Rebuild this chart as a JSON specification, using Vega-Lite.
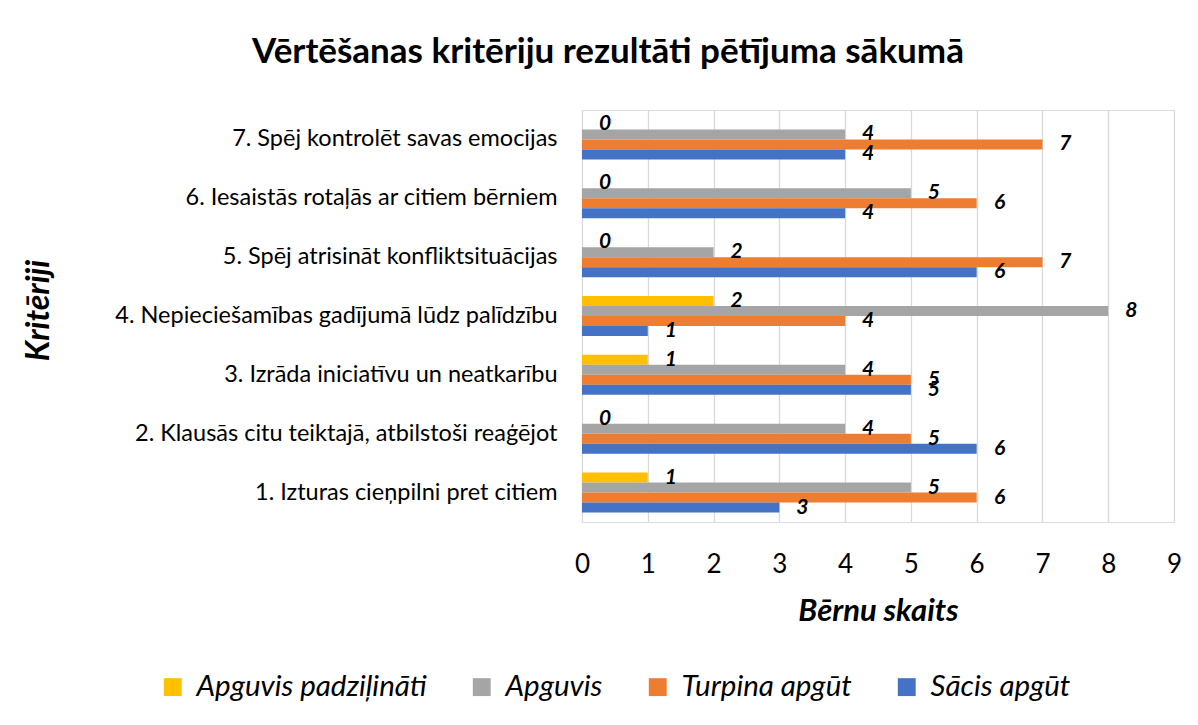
{
  "$schema": "https://vega.github.io/schema/vega-lite/v6.json",
  "width": 592,
  "height": 412,
  "autosize": {"type": "none"},
  "padding": {"left": 582, "top": 110, "right": 24, "bottom": 203},
  "background": "white",
  "title": {
    "text": "Vērtēšanas kritēriju rezultāti pētījuma sākumā",
    "font": "Lato",
    "fontSize": 35,
    "fontWeight": "bold",
    "color": "#000000",
    "anchor": "middle",
    "dx": -270,
    "offset": 40
  },
  "data": {
    "values": [
      {"crit": "7. Spēj kontrolēt savas emocijas", "series": "Apguvis padziļināti", "v": 0},
      {"crit": "7. Spēj kontrolēt savas emocijas", "series": "Apguvis", "v": 4},
      {"crit": "7. Spēj kontrolēt savas emocijas", "series": "Turpina apgūt", "v": 7},
      {"crit": "7. Spēj kontrolēt savas emocijas", "series": "Sācis apgūt", "v": 4},
      {"crit": "6. Iesaistās rotaļās ar citiem bērniem", "series": "Apguvis padziļināti", "v": 0},
      {"crit": "6. Iesaistās rotaļās ar citiem bērniem", "series": "Apguvis", "v": 5},
      {"crit": "6. Iesaistās rotaļās ar citiem bērniem", "series": "Turpina apgūt", "v": 6},
      {"crit": "6. Iesaistās rotaļās ar citiem bērniem", "series": "Sācis apgūt", "v": 4},
      {"crit": "5. Spēj atrisināt konfliktsituācijas", "series": "Apguvis padziļināti", "v": 0},
      {"crit": "5. Spēj atrisināt konfliktsituācijas", "series": "Apguvis", "v": 2},
      {"crit": "5. Spēj atrisināt konfliktsituācijas", "series": "Turpina apgūt", "v": 7},
      {"crit": "5. Spēj atrisināt konfliktsituācijas", "series": "Sācis apgūt", "v": 6},
      {"crit": "4. Nepieciešamības gadījumā lūdz palīdzību", "series": "Apguvis padziļināti", "v": 2},
      {"crit": "4. Nepieciešamības gadījumā lūdz palīdzību", "series": "Apguvis", "v": 8},
      {"crit": "4. Nepieciešamības gadījumā lūdz palīdzību", "series": "Turpina apgūt", "v": 4},
      {"crit": "4. Nepieciešamības gadījumā lūdz palīdzību", "series": "Sācis apgūt", "v": 1},
      {"crit": "3. Izrāda iniciatīvu un neatkarību", "series": "Apguvis padziļināti", "v": 1},
      {"crit": "3. Izrāda iniciatīvu un neatkarību", "series": "Apguvis", "v": 4},
      {"crit": "3. Izrāda iniciatīvu un neatkarību", "series": "Turpina apgūt", "v": 5},
      {"crit": "3. Izrāda iniciatīvu un neatkarību", "series": "Sācis apgūt", "v": 5},
      {"crit": "2. Klausās citu teiktajā, atbilstoši reaģējot", "series": "Apguvis padziļināti", "v": 0},
      {"crit": "2. Klausās citu teiktajā, atbilstoši reaģējot", "series": "Apguvis", "v": 4},
      {"crit": "2. Klausās citu teiktajā, atbilstoši reaģējot", "series": "Turpina apgūt", "v": 5},
      {"crit": "2. Klausās citu teiktajā, atbilstoši reaģējot", "series": "Sācis apgūt", "v": 6},
      {"crit": "1. Izturas cieņpilni pret citiem", "series": "Apguvis padziļināti", "v": 1},
      {"crit": "1. Izturas cieņpilni pret citiem", "series": "Apguvis", "v": 5},
      {"crit": "1. Izturas cieņpilni pret citiem", "series": "Turpina apgūt", "v": 6},
      {"crit": "1. Izturas cieņpilni pret citiem", "series": "Sācis apgūt", "v": 3}
    ]
  },
  "encoding": {
    "y": {
      "field": "crit",
      "type": "nominal",
      "sort": [
        "7. Spēj kontrolēt savas emocijas",
        "6. Iesaistās rotaļās ar citiem bērniem",
        "5. Spēj atrisināt konfliktsituācijas",
        "4. Nepieciešamības gadījumā lūdz palīdzību",
        "3. Izrāda iniciatīvu un neatkarību",
        "2. Klausās citu teiktajā, atbilstoši reaģējot",
        "1. Izturas cieņpilni pret citiem"
      ],
      "scale": {"paddingInner": 0.32, "paddingOuter": 0.16},
      "axis": {
        "title": "Kritēriji",
        "titleFont": "Lato",
        "titleFontSize": 32,
        "titleFontWeight": "bold",
        "titleFontStyle": "italic",
        "titleColor": "#000000",
        "titleAngle": -90,
        "titleX": -544,
        "titleY": 200,
        "titleAlign": "center",
        "titleBaseline": "middle",
        "labelFont": "Lato",
        "labelFontSize": 23.5,
        "labelColor": "#000000",
        "labelPadding": 25,
        "labelLimit": 600,
        "ticks": false,
        "domain": false
      }
    },
    "yOffset": {
      "field": "series",
      "type": "nominal",
      "sort": ["Apguvis padziļināti", "Apguvis", "Turpina apgūt", "Sācis apgūt"]
    },
    "x": {
      "field": "v",
      "type": "quantitative",
      "scale": {"domain": [0, 9], "nice": false},
      "axis": {
        "title": "Bērnu skaits",
        "titleFont": "Lato",
        "titleFontSize": 31,
        "titleFontWeight": "bold",
        "titleFontStyle": "italic",
        "titleColor": "#000000",
        "titleY": 89,
        "titleBaseline": "middle",
        "values": [0, 1, 2, 3, 4, 5, 6, 7, 8, 9],
        "labelFont": "Lato",
        "labelFontSize": 26,
        "labelColor": "#000000",
        "labelPadding": 29,
        "labelFlush": false,
        "grid": true,
        "gridColor": "#d9d9d9",
        "gridWidth": 1.3,
        "ticks": false,
        "domain": false
      }
    }
  },
  "layer": [
    {
      "mark": {"type": "bar"},
      "encoding": {
        "color": {
          "field": "series",
          "type": "nominal",
          "scale": {
            "domain": ["Apguvis padziļināti", "Apguvis", "Turpina apgūt", "Sācis apgūt"],
            "range": ["#FFC000", "#A5A5A5", "#ED7D31", "#4472C4"]
          },
          "legend": {
            "title": null,
            "orient": "none",
            "direction": "horizontal",
            "legendX": -424,
            "legendY": 562,
            "symbolType": "square",
            "symbolSize": 320,
            "symbolStrokeWidth": 0,
            "labelFont": "Lato",
            "labelFontSize": 29.5,
            "labelFontStyle": "italic",
            "labelColor": "#000000",
            "labelLimit": 400,
            "columnPadding": 40,
            "labelOffset": 9
          }
        }
      }
    },
    {
      "mark": {
        "type": "text",
        "align": "center",
        "baseline": "middle",
        "dx": 23,
        "font": "Lato",
        "fontSize": 21,
        "fontWeight": "bold",
        "fontStyle": "italic",
        "color": "#000000"
      },
      "encoding": {
        "text": {"field": "v", "type": "quantitative"}
      }
    }
  ]
}
